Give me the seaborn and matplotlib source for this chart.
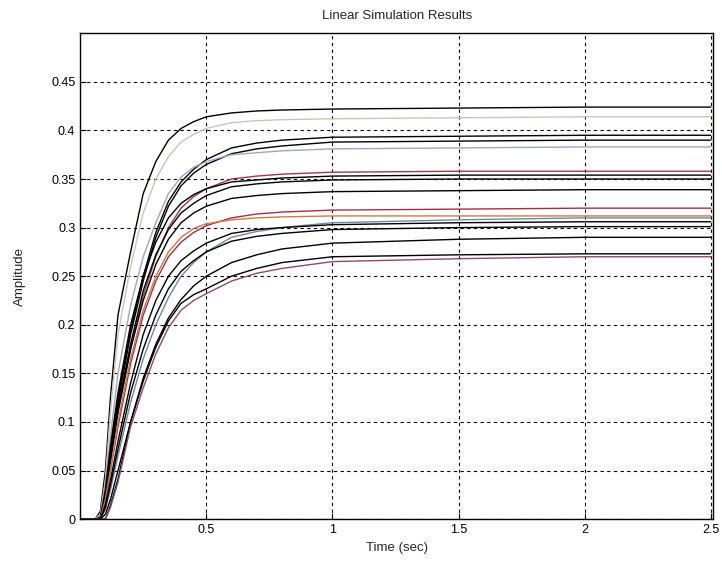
import pandas as pd
import seaborn as sns
import matplotlib.pyplot as plt

# time samples (sec)
t = [0, 0.06, 0.08, 0.1, 0.12, 0.15, 0.2, 0.25, 0.3, 0.35, 0.4, 0.45, 0.5, 0.6, 0.7, 0.8, 1.0, 1.5, 2.0, 2.5]

# amplitude of each simulated response
c1 = [0, 0, 0.008, 0.05, 0.125, 0.21, 0.275, 0.335, 0.368, 0.39, 0.402, 0.409, 0.414, 0.418, 0.420, 0.421, 0.422, 0.423, 0.424, 0.424]
c2 = [0, 0, 0.005, 0.04, 0.11, 0.19, 0.26, 0.315, 0.35, 0.373, 0.388, 0.396, 0.402, 0.408, 0.410, 0.411, 0.412, 0.413, 0.414, 0.414]
c3 = [0, 0, 0, 0.03, 0.07, 0.125, 0.195, 0.25, 0.295, 0.327, 0.347, 0.36, 0.37, 0.382, 0.387, 0.39, 0.393, 0.394, 0.395, 0.395]
c4 = [0, 0, 0, 0.028, 0.065, 0.12, 0.19, 0.245, 0.29, 0.322, 0.343, 0.356, 0.365, 0.376, 0.381, 0.384, 0.388, 0.389, 0.39, 0.39]
c5 = [0, 0, 0.003, 0.035, 0.085, 0.15, 0.22, 0.27, 0.305, 0.335, 0.352, 0.362, 0.368, 0.375, 0.377, 0.379, 0.381, 0.382, 0.383, 0.383]
c6 = [0, 0, 0, 0.025, 0.06, 0.11, 0.175, 0.23, 0.27, 0.3, 0.32, 0.332, 0.34, 0.35, 0.353, 0.355, 0.357, 0.358, 0.358, 0.358]
c7 = [0, 0, 0.002, 0.03, 0.075, 0.13, 0.2, 0.25, 0.285, 0.31, 0.325, 0.334, 0.34, 0.347, 0.349, 0.351, 0.353, 0.354, 0.354, 0.354]
c8 = [0, 0, 0, 0.025, 0.062, 0.115, 0.18, 0.235, 0.272, 0.298, 0.315, 0.325, 0.333, 0.342, 0.345, 0.347, 0.349, 0.35, 0.35, 0.35]
c9 = [0, 0, 0, 0.022, 0.058, 0.11, 0.175, 0.225, 0.262, 0.288, 0.305, 0.315, 0.322, 0.33, 0.333, 0.335, 0.337, 0.338, 0.339, 0.339]
c10 = [0, 0, 0, 0.02, 0.05, 0.095, 0.16, 0.21, 0.245, 0.27, 0.285, 0.295, 0.302, 0.31, 0.314, 0.316, 0.318, 0.319, 0.32, 0.32]
c11 = [0, 0, 0, 0.02, 0.05, 0.1, 0.165, 0.215, 0.25, 0.275, 0.29, 0.299, 0.304, 0.308, 0.310, 0.311, 0.312, 0.312, 0.312, 0.312]
c12 = [0, 0, 0, 0.01, 0.03, 0.065, 0.12, 0.165, 0.2, 0.228, 0.25, 0.264, 0.275, 0.29, 0.296, 0.3, 0.305, 0.308, 0.31, 0.31]
c13 = [0, 0, 0, 0.015, 0.04, 0.08, 0.14, 0.19, 0.225, 0.25, 0.266, 0.276, 0.284, 0.294, 0.298, 0.3, 0.303, 0.305, 0.306, 0.306]
c14 = [0, 0, 0, 0.012, 0.035, 0.072, 0.13, 0.175, 0.21, 0.237, 0.255, 0.266, 0.275, 0.286, 0.291, 0.294, 0.298, 0.3, 0.301, 0.301]
c15 = [0, 0, 0, 0.005, 0.02, 0.05, 0.1, 0.145, 0.18, 0.207, 0.226, 0.24, 0.25, 0.264, 0.272, 0.278, 0.284, 0.288, 0.29, 0.29]
c16 = [0, 0, 0, 0, 0.014, 0.041, 0.1, 0.142, 0.177, 0.204, 0.222, 0.231, 0.237, 0.25, 0.258, 0.264, 0.27, 0.272, 0.273, 0.273]
c17 = [0, 0, 0, 0, 0.012, 0.038, 0.095, 0.135, 0.17, 0.197, 0.215, 0.225, 0.232, 0.245, 0.253, 0.258, 0.265, 0.268, 0.27, 0.27]

curves = [c1, c2, c3, c4, c5, c6, c7, c8, c9, c10, c11, c12, c13, c14, c15, c16, c17]
colors = ["black", "#c5c9b3", "black", "black", "#9ea6bf", "#9a3a4c", "black", "black", "black",
          "#a0304a", "#cf7a45", "#6c88a8", "black", "black", "black", "black", "#8e4a6c"]

rows = []
for i, c in enumerate(curves):
    for x, y in zip(t, c):
        rows.append({"time": x, "amp": y, "run": f"r{i}"})
df = pd.DataFrame(rows)

sns.set_style("ticks")
plt.rcParams["font.family"] = ["Liberation Sans", "DejaVu Sans"]

fig = plt.figure(figsize=(7.22, 5.73), dpi=100)
ax = fig.add_axes([0.111, 0.094, 0.877, 0.848])

sns.lineplot(data=df, x="time", y="amp", hue="run", palette=colors, legend=False,
             linewidth=1.0, estimator=None, ax=ax)

ax.set_xlim(0, 2.51)
ax.set_ylim(0, 0.5)
ax.set_xticks([0.5, 1, 1.5, 2, 2.5])
ax.set_xticklabels(["0.5", "1", "1.5", "2", "2.5"])
ax.set_yticks([0, 0.05, 0.1, 0.15, 0.2, 0.25, 0.3, 0.35, 0.4, 0.45])
ax.set_yticklabels(["0", "0.05", "0.1", "0.15", "0.2", "0.25", "0.3", "0.35", "0.4", "0.45"])
ax.grid(True, color="black", linestyle=(0, (3, 3)), linewidth=0.8)
ax.tick_params(direction="in", length=4, labelsize=9, colors="black")
for s in ax.spines.values():
    s.set_color("black")
    s.set_linewidth(1.0)

ax.set_title("Linear Simulation Results", fontsize=9.5, pad=10)
ax.set_xlabel("Time (sec)", fontsize=9.5)
ax.set_ylabel("Amplitude", fontsize=9.5, labelpad=18)

fig.savefig("out.png", dpi=100)
